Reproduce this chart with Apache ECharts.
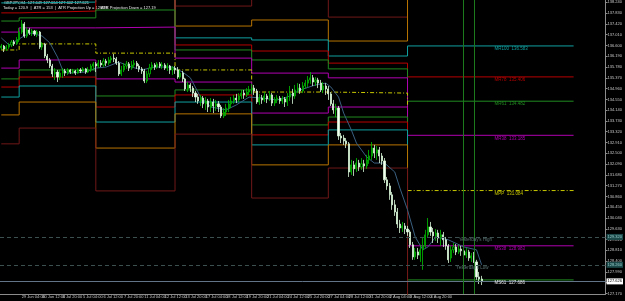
<!DOCTYPE html>
<html>
<head>
<meta charset="utf-8">
<script src="https://cdn.jsdelivr.net/npm/echarts@6/dist/echarts.min.js"></script>
<style>
  html, body { margin: 0; padding: 0; background: #000; }
  #chart { width: 625px; height: 301px; }
</style>
</head>
<body>
<div id="chart"></div>
<script>
// GBPJPY H4 candles: [open, close, low, high]
const candles = [
  [136.51, 136.58, 136.43, 136.66], [136.58, 136.47, 136.35, 136.62], [136.47, 136.54, 136.39, 136.62],
  [136.54, 136.62, 136.47, 136.70], [136.62, 136.73, 136.54, 136.81], [136.73, 136.66, 136.58, 136.81],
  [136.66, 136.81, 136.62, 136.92], [136.81, 137.11, 136.73, 137.27], [137.11, 137.42, 137.04, 137.57],
  [137.42, 136.96, 136.89, 137.49], [136.96, 137.19, 136.89, 137.30], [137.19, 137.08, 137.00, 137.27],
  [137.08, 137.15, 136.96, 137.23], [137.15, 137.04, 136.96, 137.19], [137.04, 137.11, 136.92, 137.19],
  [137.11, 136.54, 136.47, 137.15], [136.54, 136.66, 136.43, 136.73], [136.66, 136.20, 136.12, 136.70],
  [136.20, 136.05, 135.93, 136.28], [136.05, 135.82, 135.74, 136.12], [135.82, 135.52, 135.40, 135.90],
  [135.52, 135.59, 135.29, 135.74], [135.59, 135.40, 135.21, 135.67], [135.40, 135.55, 135.29, 135.67],
  [135.55, 135.63, 135.37, 135.74], [135.63, 135.55, 135.44, 135.71], [135.55, 135.67, 135.48, 135.74],
  [135.67, 135.59, 135.52, 135.71], [135.59, 135.63, 135.52, 135.71], [135.63, 135.55, 135.48, 135.67],
  [135.55, 135.67, 135.52, 135.74], [135.67, 135.63, 135.55, 135.74], [135.63, 135.71, 135.59, 135.78],
  [135.71, 135.59, 135.52, 135.74], [135.59, 135.67, 135.55, 135.78], [135.67, 135.82, 135.59, 135.90],
  [135.82, 135.90, 135.67, 135.97], [135.90, 135.82, 135.59, 135.97], [135.82, 135.93, 135.74, 136.05],
  [135.93, 135.86, 135.78, 136.05], [135.86, 136.01, 135.78, 136.12], [136.01, 135.93, 135.82, 136.09],
  [135.93, 136.05, 135.86, 136.16], [136.05, 136.12, 135.93, 136.20], [136.12, 136.09, 135.97, 136.28],
  [136.09, 135.93, 135.86, 136.16], [135.93, 135.52, 135.44, 136.01], [135.52, 135.67, 135.44, 135.82],
  [135.67, 135.82, 135.59, 135.93], [135.82, 135.90, 135.71, 136.01], [135.90, 135.74, 135.63, 135.97],
  [135.74, 135.86, 135.67, 136.01], [135.86, 135.93, 135.78, 136.05], [135.93, 135.82, 135.71, 136.01],
  [135.82, 135.71, 135.59, 135.90], [135.71, 135.63, 135.52, 135.78], [135.63, 135.25, 135.17, 135.71],
  [135.25, 135.52, 135.17, 135.63], [135.52, 135.74, 135.40, 135.90], [135.74, 135.86, 135.67, 135.97],
  [135.86, 135.78, 135.67, 135.93], [135.78, 135.90, 135.71, 135.97], [135.90, 135.82, 135.74, 135.97],
  [135.82, 135.86, 135.71, 135.97], [135.86, 135.74, 135.67, 135.93], [135.74, 135.82, 135.63, 135.93],
  [135.82, 135.67, 135.52, 135.86], [135.67, 135.74, 135.48, 135.82], [135.74, 135.67, 135.52, 135.82],
  [135.67, 135.40, 135.33, 135.78], [135.40, 135.55, 135.33, 135.67], [135.55, 135.33, 135.21, 135.63],
  [135.33, 134.95, 134.87, 135.37], [134.95, 135.10, 134.83, 135.21], [135.10, 134.98, 134.83, 135.17],
  [134.98, 134.79, 134.64, 135.06], [134.79, 134.64, 134.45, 134.87], [134.64, 134.49, 134.38, 134.76],
  [134.49, 134.60, 134.30, 134.72], [134.60, 134.38, 134.22, 134.68], [134.38, 134.49, 134.15, 134.64],
  [134.49, 134.26, 134.07, 134.57], [134.26, 134.45, 134.07, 134.60], [134.45, 134.30, 134.03, 134.57],
  [134.30, 134.38, 134.11, 134.53], [134.38, 134.26, 134.07, 134.49], [134.26, 133.92, 133.84, 134.34],
  [133.92, 134.07, 133.84, 134.22], [134.07, 134.22, 133.92, 134.38], [134.22, 134.38, 134.07, 134.53],
  [134.38, 134.49, 134.22, 134.64], [134.49, 134.60, 134.38, 134.72], [134.60, 134.53, 134.41, 134.76],
  [134.53, 134.68, 134.45, 134.79], [134.68, 134.79, 134.57, 134.91], [134.79, 134.72, 134.57, 134.91],
  [134.72, 134.83, 134.64, 134.98], [134.83, 134.91, 134.72, 135.06], [134.91, 134.98, 134.79, 135.14],
  [134.98, 134.87, 134.72, 135.10], [134.87, 134.45, 134.38, 134.95], [134.45, 134.60, 134.34, 134.76],
  [134.60, 134.53, 134.38, 134.72], [134.53, 134.68, 134.45, 134.83], [134.68, 134.57, 134.41, 134.76],
  [134.57, 134.72, 134.49, 134.87], [134.72, 134.41, 134.30, 134.79], [134.41, 134.53, 134.30, 134.64],
  [134.53, 134.60, 134.41, 134.72], [134.60, 134.49, 134.38, 134.68], [134.49, 134.57, 134.38, 134.68],
  [134.57, 134.45, 134.26, 134.64], [134.45, 134.64, 134.30, 134.79], [134.64, 134.79, 134.49, 135.06],
  [134.79, 134.68, 134.38, 134.95], [134.68, 134.91, 134.57, 135.10], [134.91, 134.98, 134.79, 135.17],
  [134.98, 134.87, 134.76, 135.14], [134.87, 135.06, 134.79, 135.21], [135.06, 135.17, 134.95, 135.29],
  [135.17, 135.29, 135.02, 135.44], [135.29, 135.37, 135.14, 135.59], [135.37, 135.21, 135.06, 135.48],
  [135.21, 135.29, 135.06, 135.40], [135.29, 135.17, 134.98, 135.37], [135.17, 134.91, 134.83, 135.29],
  [134.91, 135.06, 134.79, 135.21], [135.06, 134.95, 134.72, 135.17], [134.95, 134.76, 134.53, 135.06],
  [134.76, 134.38, 134.30, 134.83], [134.38, 134.15, 134.00, 134.53], [134.15, 134.22, 133.88, 134.38],
  [134.22, 133.16, 133.01, 134.30], [133.16, 133.08, 132.89, 133.27], [133.08, 132.97, 132.82, 133.20],
  [132.97, 132.86, 132.70, 133.08], [132.86, 131.79, 131.60, 132.93], [131.79, 132.06, 131.68, 132.25],
  [132.06, 131.91, 131.64, 132.21], [131.91, 132.13, 131.79, 132.32], [132.13, 131.98, 131.83, 132.25],
  [131.98, 132.10, 131.87, 132.32], [132.10, 132.02, 131.79, 132.25], [132.02, 132.25, 131.91, 132.44],
  [132.25, 132.40, 132.10, 132.63], [132.40, 132.70, 132.25, 132.93], [132.70, 132.51, 132.32, 132.82],
  [132.51, 132.63, 132.25, 132.78], [132.63, 132.40, 132.13, 132.74], [132.40, 132.21, 132.06, 132.51],
  [132.21, 131.49, 131.37, 132.32], [131.49, 131.26, 131.11, 131.60], [131.26, 130.92, 130.73, 131.37],
  [130.92, 130.54, 130.35, 131.03], [130.54, 130.27, 130.12, 130.73], [130.27, 129.81, 129.66, 130.42],
  [129.81, 129.66, 129.47, 129.97], [129.66, 129.74, 129.51, 129.89], [129.74, 129.62, 129.43, 129.85],
  [129.62, 129.51, 129.36, 129.74], [129.51, 129.02, 128.90, 129.59], [129.02, 128.56, 128.45, 129.13],
  [128.56, 128.75, 128.45, 128.90], [128.75, 128.63, 128.48, 128.90], [128.63, 128.83, 128.37, 129.02],
  [128.83, 128.98, 128.07, 129.32], [128.98, 129.40, 128.90, 129.59], [129.40, 129.70, 129.28, 130.04],
  [129.70, 129.51, 129.36, 129.89], [129.51, 129.36, 129.09, 129.66], [129.36, 129.47, 129.17, 129.62],
  [129.47, 129.28, 129.09, 129.59], [129.28, 129.40, 128.98, 129.59], [129.40, 129.21, 128.94, 129.51],
  [129.21, 128.98, 128.83, 129.32], [128.98, 128.45, 128.33, 129.05], [128.52, 128.83, 128.37, 128.98],
  [128.83, 128.94, 128.71, 129.09], [128.94, 128.75, 128.63, 129.05], [128.75, 128.86, 128.67, 129.02],
  [128.86, 128.79, 128.60, 128.98], [128.79, 128.63, 128.52, 128.94], [128.63, 128.75, 128.52, 128.90],
  [128.75, 128.52, 128.41, 128.83], [128.52, 128.60, 128.37, 128.71], [128.60, 128.37, 128.33, 128.75],
  [128.37, 127.80, 127.69, 128.45], [127.80, 127.72, 127.53, 127.99], [127.72, 127.62, 127.49, 127.84]
];

// moving average, [bar index, value]
const maLine = [
  [0, 136.89], [3, 136.62], [11, 137.08], [16, 136.96], [19, 136.70], [22, 136.16], [24, 135.67],
  [26, 135.55], [33, 135.59], [37, 135.74], [41, 135.78], [46, 135.97], [51, 135.78], [55, 135.67],
  [60, 135.78], [67, 135.78], [71, 135.59], [74, 135.37], [78, 134.64], [82, 134.26], [88, 134.15],
  [92, 134.34], [97, 134.64], [102, 134.60], [108, 134.53], [112, 134.64], [117, 134.91], [123, 135.10],
  [127, 135.17], [129, 135.02], [132, 134.64], [134, 134.03], [137, 133.39], [139, 132.89], [143, 132.36],
  [146, 132.13], [150, 132.13], [154, 131.79], [156, 131.18], [159, 130.35], [162, 129.32], [165, 128.83],
  [167, 128.94], [170, 129.32], [175, 129.21], [181, 128.94], [186, 128.83], [188, 128.26]
];

const barCount = 237;
const xLabels = ['27 Jun 2023', '29 Jun 04:00', '30 Jun 12:00', '3 Jul 20:00', '5 Jul 04:00', '6 Jul 12:00',
  '7 Jul 20:00', '11 Jul 04:00', '12 Jul 12:00', '13 Jul 20:00', '17 Jul 04:00', '18 Jul 12:00',
  '19 Jul 20:00', '21 Jul 04:00', '24 Jul 12:00', '25 Jul 20:00', '27 Jul 04:00', '28 Jul 12:00',
  '31 Jul 20:00', '2 Aug 04:00', '3 Aug 12:00', '4 Aug 20:00', '8 Aug 04:00'];
const yTicks = [138.240, 137.830, 137.420, 137.010, 136.600, 136.190, 135.780, 135.370, 134.960, 134.550,
  134.140, 133.730, 133.320, 132.910, 132.500, 132.090, 131.680, 131.270, 130.860, 130.450, 130.040,
  129.630, 129.220, 128.810, 128.400, 127.990, 127.580, 127.170];

// pivot periods (first bar of each period) and levels
const segStart = [0, 7, 37, 68, 98, 128, 159];
const segEnd = 224;
const r200 = [140.00, 139.85, 141.56, 138.10, 138.79, 137.68, 142.082];
const r138 = [138.90, 138.86, 139.93, 137.34, 137.57, 136.77, 138.683];
const r100 = [138.22, 138.25, 138.94, 136.89, 136.81, 136.20, 136.583];
const r78 = [137.84, 137.91, 138.37, 136.62, 136.39, 135.93, 135.406];
const r61 = [137.53, 137.65, 137.95, 136.43, 136.05, 135.71, 134.482];
const r38 = [137.11, 137.27, 137.30, 136.12, 135.55, 135.37, 133.185];
const pp = [136.43, 136.66, 136.31, 135.67, 134.83, 134.79, 131.084];
const s38 = [135.74, 136.05, 135.33, 135.21, 134.03, 134.26, 128.983];
const s61 = [135.33, 135.67, 134.68, 134.91, 133.58, 133.88, 127.686];
const s78 = [135.02, 135.40, 134.26, 134.72, 133.20, 133.69, 126.762];
const s100 = [134.64, 135.06, 133.69, 134.45, 132.82, 133.39, 125.585];
const s138 = [133.96, 134.45, 132.70, 134.00, 132.06, 132.82, 123.485];
const s200 = [132.86, 133.46, 131.07, 133.23, 130.80, 131.94, 120.086];

const bidPrice = 127.626;
const yesterdayHigh = 129.32;
const yesterdayLow = 128.26;
const crossBars = [181, 185];
const titleText = 'GBPJPY,H4  127.649 127.664 127.602 127.621';
const infoText = 'Today = 120.9  |  ATR = 153  |  ATR Projection Up = 128.98';
const infoText2 = 'ATR Projection Down = 127.19';

const levels = [
  { data: r200, color: '#701818' },
  { data: r138, color: '#b87400' },
  { data: r100, color: '#10a0a0', tag: 'MR100' },
  { data: r78, color: '#b80000', tag: 'MR78' },
  { data: r61, color: '#208a20', tag: 'MR61' },
  { data: r38, color: '#b000b0', tag: 'MR38' },
  { data: pp, color: '#c8c800', tag: 'MPP', dash: [4, 2, 1, 2] },
  { data: s38, color: '#b000b0', tag: 'MS38' },
  { data: s61, color: '#208a20', tag: 'MS61', text: '#e8e8e8' },
  { data: s78, color: '#b80000' },
  { data: s100, color: '#10a0a0' },
  { data: s138, color: '#b87400' },
  { data: s200, color: '#701818' }
];

function stepData (vals) {
  let pts = segStart.map((s, k) => [s, vals[k]])
  pts.push([segEnd, vals[vals.length - 1]])
  return pts
}

let categories = []
for (let i = 0; i < barCount; i++) categories.push(String(i))

let series = levels.map(lv => {
  let last = lv.data[lv.data.length - 1]
  let s = {
    type: 'line',
    step: 'end',
    data: stepData(lv.data),
    showSymbol: false,
    silent: true,
    z: 2,
    lineStyle: { color: lv.color, width: 1, type: lv.dash || 'solid' }
  }
  if (lv.tag) {
    s.markPoint = {
      symbol: 'circle',
      symbolSize: 0,
      silent: true,
      data: [{
        coord: ['193', last],
        label: {
          show: true,
          position: 'right',
          distance: 0,
          offset: [0, 3],
          formatter: lv.tag + '  ' + last.toFixed(3),
          color: lv.text || lv.color,
          fontSize: 4.5,
          fontFamily: 'Liberation Sans'
        }
      }]
    }
  }
  return s
})

series.push({
  type: 'line',
  data: maLine,
  showSymbol: false,
  silent: true,
  z: 3,
  lineStyle: { color: '#3a6080', width: 1 }
})

series.push({
  type: 'candlestick',
  data: candles,
  barWidth: 1.6,
  z: 4,
  itemStyle: {
    color: '#000000',
    color0: '#f4fff4',
    borderColor: '#00c000',
    borderColor0: '#d8f8d8',
    borderWidth: 0.8
  },
  markLine: {
    symbol: 'none',
    silent: true,
    data: [
      { yAxis: bidPrice, lineStyle: { color: '#627488', type: 'solid', width: 1 },
        label: { formatter: bidPrice.toFixed(3), backgroundColor: '#ffffff', color: '#000', fontSize: 4, padding: [1, 1], distance: 1 } },
      { yAxis: yesterdayHigh, lineStyle: { color: '#3c5050', type: [4, 3], width: 1 },
        label: { formatter: yesterdayHigh.toFixed(3), backgroundColor: '#1c4a4a', color: '#9cc', fontSize: 4, padding: [1, 1], distance: 1 } },
      { yAxis: yesterdayLow, lineStyle: { color: '#3c5050', type: [4, 3], width: 1 },
        label: { formatter: yesterdayLow.toFixed(3), backgroundColor: '#1c4a4a', color: '#9cc', fontSize: 4, padding: [1, 1], distance: 1 } },
      { xAxis: String(crossBars[0]), lineStyle: { color: '#1c7a1c', type: 'solid', width: 1 }, label: { show: false } },
      { xAxis: String(crossBars[1]), lineStyle: { color: '#1c7a1c', type: 'solid', width: 1 }, label: { show: false } }
    ]
  },
  markPoint: {
    symbol: 'circle',
    symbolSize: 0,
    silent: true,
    label: { show: true, position: 'right', distance: 0, offset: [0, 3], color: '#5a7272', fontSize: 4.5, fontFamily: 'Liberation Sans' },
    data: [
      { coord: ['179', yesterdayHigh], label: { formatter: "Yesterday's High" } },
      { coord: ['178', yesterdayLow], label: { formatter: "Yesterday's Low" } }
    ]
  }
})

let myChart = echarts.init(document.getElementById('chart'))
myChart.setOption({
  backgroundColor: '#000000',
  animation: false,
  grid: { left: 0, right: 15, top: 0, bottom: 7 },
  xAxis: {
    type: 'category',
    data: categories,
    boundaryGap: true,
    axisLine: { lineStyle: { color: '#8c8c8c', width: 1 } },
    axisTick: { length: 2, interval: idx => idx % 8 === 0 && idx / 8 < xLabels.length, lineStyle: { color: '#8c8c8c' } },
    axisLabel: {
      interval: idx => idx % 8 === 0 && idx / 8 < xLabels.length,
      formatter: (v, idx) => {
        let k = idx / 8
        if (k === xLabels.length - 1) return '{hl|' + xLabels[k] + '}'
        return xLabels[k]
      },
      align: 'left',
      margin: 1,
      color: '#c8c8c8',
      fontSize: 4,
      fontFamily: 'Liberation Sans',
      rich: {
        hl: { backgroundColor: '#1f9e1f', color: '#0c500c', fontSize: 4, padding: [1, 12, 1, 2] }
      }
    },
    splitLine: { show: false }
  },
  yAxis: {
    type: 'value',
    position: 'right',
    min: 127.15,
    max: 138.33,
    scale: true,
    axisLine: { show: true, lineStyle: { color: '#8c8c8c', width: 1 } },
    axisTick: { show: true, length: 2, customValues: yTicks, lineStyle: { color: '#8c8c8c' } },
    axisLabel: {
      customValues: yTicks,
      formatter: v => v.toFixed(3),
      margin: 2,
      color: '#c8c8c8',
      fontSize: 4,
      fontFamily: 'Liberation Sans'
    },
    splitLine: { show: false }
  },
  graphic: [
    { type: 'text', left: 4, top: 1, style: { text: titleText, fill: '#e8e8e8', fontSize: 4, fontFamily: 'Liberation Sans' } },
    { type: 'text', left: 3, top: 6, style: { text: infoText, fill: '#e8e8e8', fontSize: 4, fontFamily: 'Liberation Sans' } },
    { type: 'text', left: 101, top: 6, style: { text: infoText2, fill: '#e8e8e8', fontSize: 4, fontFamily: 'Liberation Sans' } }
  ],
  series: series
})
</script>
</body>
</html>
